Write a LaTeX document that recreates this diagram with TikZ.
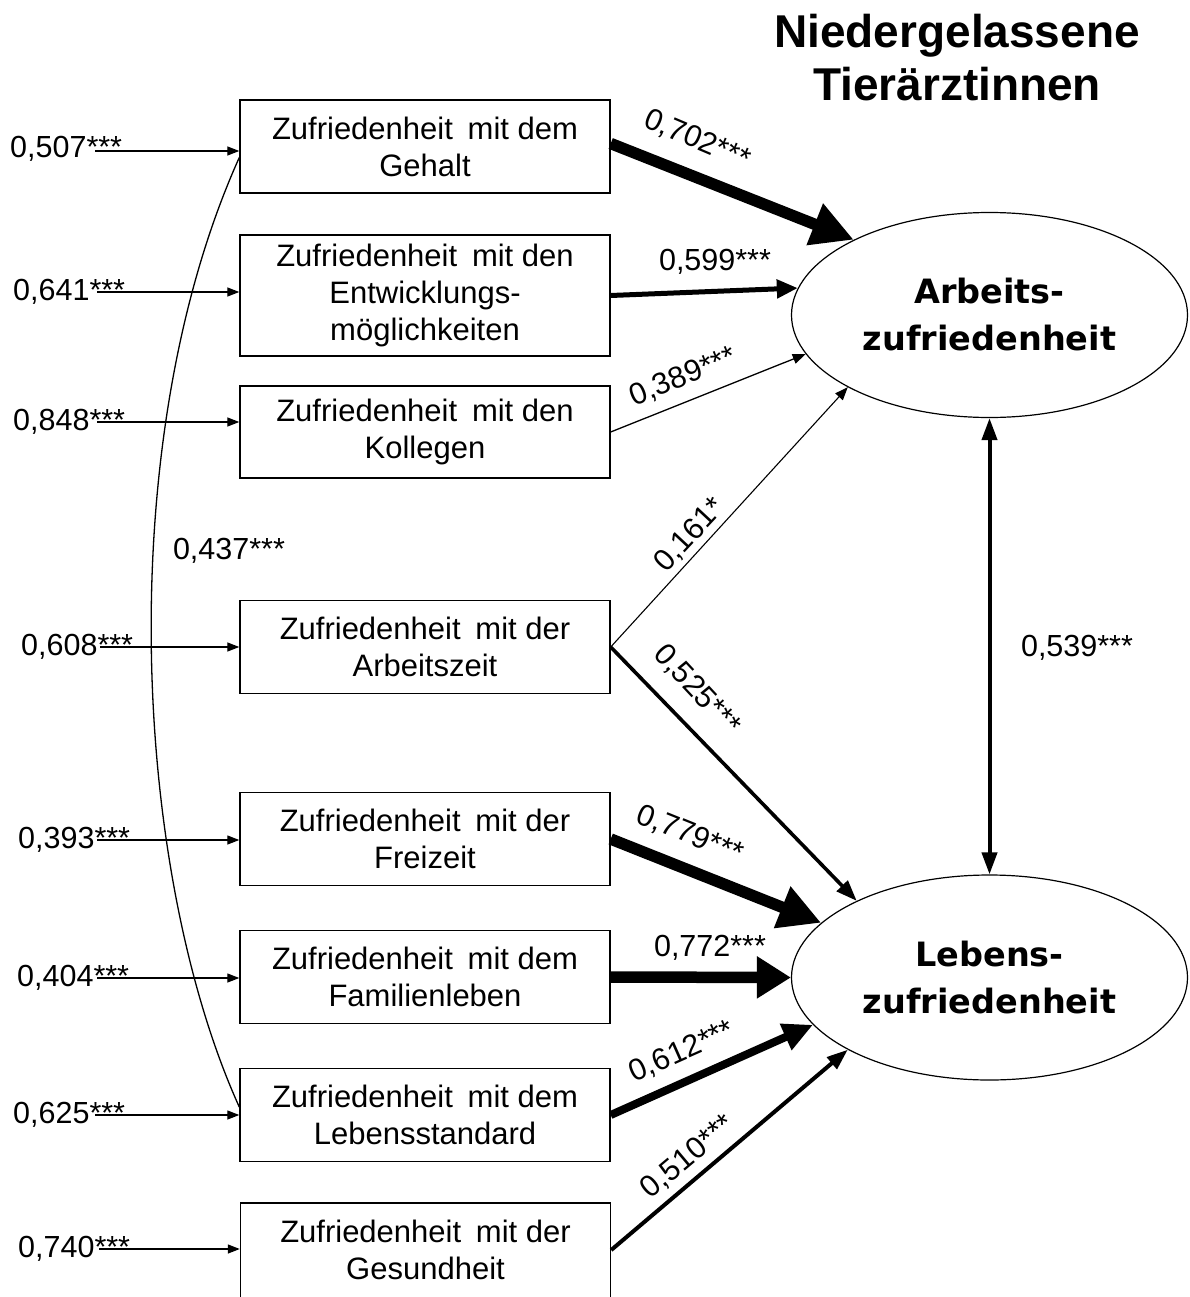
\documentclass[tikz,border=0pt]{standalone}
\usepackage{fontspec}
\setmainfont{Liberation Sans}
\newfontfamily\latfont{DejaVu Sans}
\usetikzlibrary{arrows.meta,calc,shapes.geometric}
\begin{document}
\begin{tikzpicture}[x=1pt,y=-1pt,
  box/.style={draw, line width=1.4pt, minimum width=370pt, minimum height=93pt,
    inner sep=0pt, align=center, font=\fontsize{31}{37}\selectfont},
  lat/.style={draw, ellipse, line width=1.2pt, minimum width=396pt, minimum height=205pt,
    inner sep=0pt, align=center, font=\latfont\bfseries\fontsize{33.5}{47}\selectfont},
  num/.style={font=\fontsize{30.5}{36}\selectfont, inner sep=0pt},
  errarrow/.style={line width=1.3pt, -{Triangle[length=12pt,width=9pt]}},
  corr/.style={line width=1.3pt},
  thin/.style={line width=1.3pt, -{Triangle[length=13pt,width=10pt]}},
  medium/.style={line width=3.6pt, -{Triangle[length=21pt,width=15pt]}},
  strong/.style={line width=5pt, -{Triangle[length=21pt,width=18pt]}},
  heavy/.style={line width=8pt, -{Triangle[length=30pt,width=27pt]}},
  huge/.style={line width=11.5pt, -{Triangle[length=42pt,width=42pt]}},
  dblarrow/.style={line width=4pt, {Triangle[length=22pt,width=15pt]}-{Triangle[length=22pt,width=15pt]}},
]
\fill[white] (0,0) rectangle (1189,1297);
\useasboundingbox (0,0) rectangle (1189,1297);
\clip (0,0) rectangle (1189,1297);

% title
\node[font=\bfseries\fontsize{46}{53}\selectfont, align=center, inner sep=0pt] (title) at (957,58)
  {Niedergelassene\\Tierärztinnen};

% observed variables
\node[box] (b1) at (425,146.5) {Zufriedenheit\hspace{0.2em} mit dem\\Gehalt};
\node[box, minimum height=121pt] (b2) at (425,295.5) {Zufriedenheit\hspace{0.2em} mit den\\Entwicklungs-\\möglichkeiten};
\node[box, minimum height=92pt] (b3) at (425,432) {Zufriedenheit\hspace{0.2em} mit den\\Kollegen};
\node[box] (b4) at (425,647) {Zufriedenheit\hspace{0.2em} mit der\\Arbeitszeit};
\node[box] (b5) at (425,839) {Zufriedenheit\hspace{0.2em} mit der\\Freizeit};
\node[box] (b6) at (425,977) {Zufriedenheit\hspace{0.2em} mit dem\\Familienleben};
\node[box] (b7) at (425,1115) {Zufriedenheit\hspace{0.2em} mit dem\\Lebensstandard};
\node[box, minimum height=100pt, text depth=6pt] (b8) at (425.5,1253) {Zufriedenheit\hspace{0.2em} mit der\\Gesundheit};

% latent variables
\node[lat] (arb) at (989.5,315) {Arbeits-\\zufriedenheit};
\node[lat] (leb) at (989.5,977.5) {Lebens-\\zufriedenheit};

% error terms
\node[num, anchor=base west] (e1) at (10,158) {0,507***};
\node[num, anchor=base west] (e2) at (13,300) {0,641***};
\node[num, anchor=base west] (e3) at (13,430) {0,848***};
\node[num, anchor=base west] (e4) at (21,655) {0,608***};
\node[num, anchor=base west] (e5) at (18,848) {0,393***};
\node[num, anchor=base west] (e6) at (17,986) {0,404***};
\node[num, anchor=base west] (e7) at (13,1123) {0,625***};
\node[num, anchor=base west] (e8) at (18,1257) {0,740***};
\coordinate (s1) at (95,151);
\coordinate (s2) at (97,292);
\coordinate (s3) at (97,422);
\coordinate (s4) at (100,647);
\coordinate (s5) at (97,840);
\coordinate (s6) at (97,978);
\coordinate (s7) at (95,1115);
\coordinate (s8) at (99,1249);
\draw[errarrow] (s1) -- (s1 -| b1.west);
\draw[errarrow] (s2) -- (s2 -| b2.west);
\draw[errarrow] (s3) -- (s3 -| b3.west);
\draw[errarrow] (s4) -- (s4 -| b4.west);
\draw[errarrow] (s5) -- (s5 -| b5.west);
\draw[errarrow] (s6) -- (s6 -| b6.west);
\draw[errarrow] (s7) -- (s7 -| b7.west);
\draw[errarrow] (s8) -- (s8 -| b8.west);

% correlation
\draw[corr] ($(b1.west)+(0,11)$) .. controls (112,440) and (132,870) .. ($(b7.west)+(0,-8)$);
\node[num] (l437) at (229,551) {0,437***};

% paths
\draw[huge] ($(b1.east)+(0,-3)$) -- (arb.151.8);
\draw[strong] (b2.east) -- (arb.172);
\draw[thin] (b3.east) -- (arb.192.5);
\draw[thin, line width=1.1pt] (b4.east) -- (arb.207.5);
\draw[medium] (b4.east) -- (leb.150.6);
\draw[huge] (b5.east) -- (leb.162.2);
\draw[huge, -{Triangle[length=34pt,width=40pt]}] (b6.east) -- (leb.180);
\draw[heavy] (b7.east) -- (leb.195);
\draw[medium, line width=4pt] ($(b8.east)+(0,-3)$) -- (leb.207.5);
\draw[dblarrow] (arb.south) -- (leb.north);

% path labels
\node[num, rotate=-23] (l702) at (697,140) {0,702***};
\node[num] (l599) at (715,262) {0,599***};
\node[num, rotate=22] (l389) at (683,377) {0,389***};
\node[num, rotate=47] (l161) at (690,535) {0,161*};
\node[num, rotate=-47] (l525) at (697,690) {0,525***};
\node[num, rotate=-22] (l779) at (690,835) {0,779***};
\node[num] (l772) at (710,948) {0,772***};
\node[num, rotate=24] (l612) at (682,1052) {0,612***};
\node[num, rotate=40] (l510) at (688,1157) {0,510***};
\node[num] (l539) at (1077,648) {0,539***};
\end{tikzpicture}
\end{document}
